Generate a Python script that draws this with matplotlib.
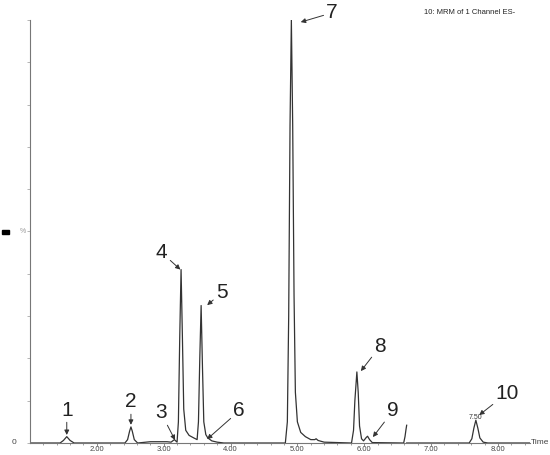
import numpy as np
import matplotlib
matplotlib.use("Agg")
import matplotlib.pyplot as plt
from matplotlib.patches import Rectangle

plt.rcParams['font.family'] = ['Liberation Sans', 'DejaVu Sans']

# Trace: (time in min, relative intensity %)
trace_time = [1.00, 1.45, 1.50, 1.55, 1.60, 1.66,
              2.42, 2.46, 2.49, 2.51, 2.53, 2.56, 2.61,
              2.80, 3.05, 3.11, 3.16, 3.20,
              3.22, 3.24, 3.26, 3.28, 3.30, 3.33, 3.38, 3.45, 3.50,
              3.52, 3.54, 3.56, 3.58, 3.60, 3.63, 3.66, 3.72, 3.80, 3.90,
              4.82, 4.85, 4.87, 4.89, 4.91, 4.93, 4.95, 4.97, 5.00, 5.05, 5.12, 5.20, 5.26, 5.28, 5.31, 5.40,
              5.81, 5.84, 5.86, 5.89, 5.91, 5.93, 5.96, 5.99,
              6.03, 6.05, 6.08, 6.12, 6.59, 6.61, 6.625, 6.635]
trace_value = [0.0, 0.0, 0.6, 1.5, 0.6, 0.0,
               0.0, 0.8, 2.8, 3.8, 2.8, 0.8, 0.0,
               0.3, 0.3, 0.2, 0.8, 0.2,
               5.0, 25.0, 41.0, 25.0, 8.0, 3.0, 1.8, 1.2, 0.8,
               5.0, 20.0, 32.5, 18.0, 5.0, 2.0, 1.2, 0.5, 0.2, 0.0,
               0.0, 5.0, 30.0, 75.0, 100.0, 75.0, 35.0, 12.0, 5.0, 2.5, 1.5, 0.8, 0.8, 1.0, 0.6, 0.2,
               0.0, 3.0, 10.0, 16.8, 12.0, 4.0, 1.0, 0.5,
               1.3, 1.6, 0.8, 0.1, 0.0, 1.5, 3.2, 4.2]
trace2_time = [6.635, 7.57, 7.61, 7.64, 7.67, 7.70, 7.73, 7.78, 7.85, 8.48]
trace2_value = [0.0, 0.0, 1.0, 3.5, 5.4, 3.5, 1.2, 0.2, 0.0, 0.0]

# Peak labels: number, arrow tip (time, intensity), label position
peak_labels = ['1', '2', '3', '4', '5', '6', '7', '8', '9', '10']
peak_times = [1.55, 2.51, 3.17, 3.25, 3.65, 3.65, 5.05, 5.95, 6.13, 7.72]
peak_tips = [1.9, 4.3, 0.7, 41.0, 32.6, 0.9, 99.5, 17.0, 1.4, 6.6]
label_times = [1.55, 2.51, 2.96, 2.97, 3.87, 4.13, 5.52, 6.24, 6.43, 8.14]
label_values = [7.8, 9.7, 7.1, 45.0, 35.5, 7.6, 101.7, 22.9, 7.6, 11.8]

x_ticks = [2, 3, 4, 5, 6, 7, 8]
x_tick_labels = ['2.00', '3.00', '4.00', '5.00', '6.00', '7.00', '8.00']

fig = plt.figure(figsize=(5.5, 4.55), dpi=100)
ax = fig.add_axes([30/550, 12/455, 500/550, 423/455])
ax.set_xlim(1.0, 8.48)
ax.set_ylim(0, 100)

line_c = '#333333'
ax.plot(trace_time, trace_value, color=line_c, lw=0.9)
ax.plot(trace2_time, trace2_value, color=line_c, lw=0.9)

for s in ['top', 'right']:
    ax.spines[s].set_visible(False)
for s in ['left', 'bottom']:
    ax.spines[s].set_color('#777777')
    ax.spines[s].set_linewidth(0.8)

ax.set_xticks(x_ticks)
ax.set_xticklabels(x_tick_labels, fontsize=5.5, color='#444444')
ax.set_xticks(np.arange(1.2, 8.5, 0.2), minor=True)
ax.tick_params(axis='x', which='major', direction='out', length=2, width=0.6, color='#777777', pad=0.5)
ax.tick_params(axis='x', which='minor', direction='out', length=1.5, width=0.5, color='#777777')
ax.set_yticks(np.arange(0, 101, 10))
ax.set_yticklabels([])
ax.tick_params(axis='y', direction='out', length=2, width=0.5, color='#999999')

for lab, pt, pv, lt, lv in zip(peak_labels, peak_times, peak_tips, label_times, label_values):
    ax.annotate(lab, xy=(pt, pv), xytext=(lt, lv), textcoords='data',
                ha='center', va='center', fontsize=15, color='#222222',
                annotation_clip=False,
                arrowprops=dict(arrowstyle='-|>', color='#333333', lw=0.7,
                                mutation_scale=7, shrinkA=0, shrinkB=0))

ax.text(7.66, 6.1, '7.50', fontsize=5, ha='center', va='center', color='#333333')

fig.text(540/550, 1 - 443/455, 'Time', fontsize=6, ha='center', va='center', color='#444444')
fig.text(14/550, 1 - 443/455, '0', fontsize=6, ha='center', va='center', color='#444444')
fig.text(23/550, 1 - 232/455, '%', fontsize=5, ha='center', va='center', color='#999999')
fig.add_artist(Rectangle((2/550, 1 - 234/455), 7/550, 4/455, transform=fig.transFigure,
                         color='black'))
fig.text(470/550, 1 - 13/455, '10: MRM of 1 Channel ES-', fontsize=5.5,
         ha='center', va='center', color='#222222')

fig.savefig('out.png', dpi=100)
